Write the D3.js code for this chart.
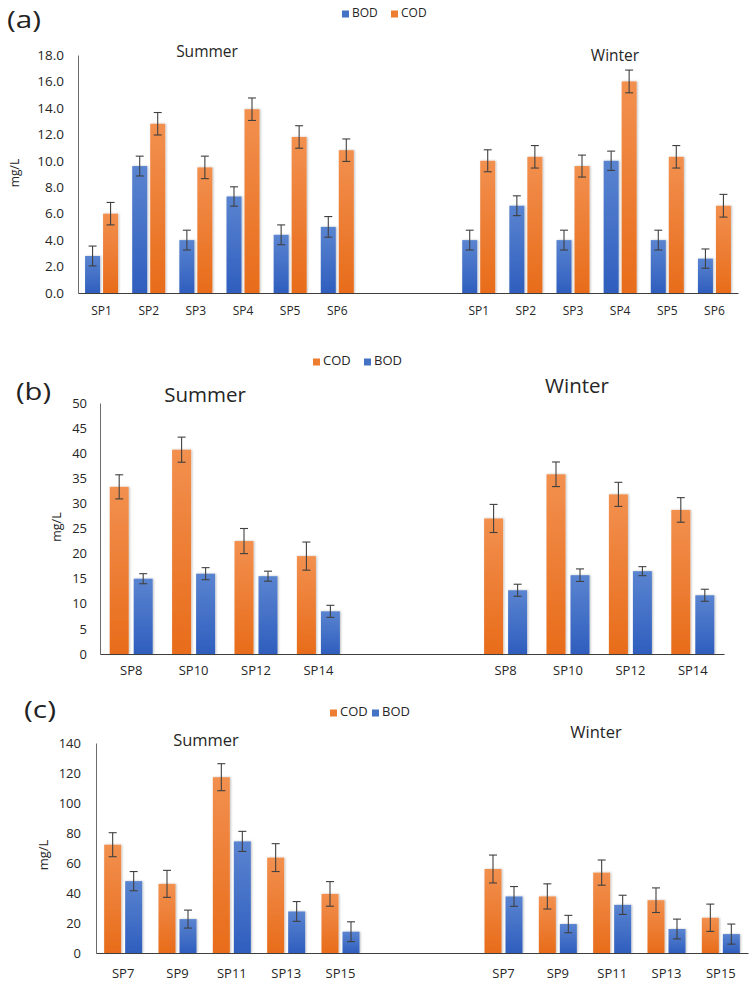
<!DOCTYPE html>
<html>
<head>
<meta charset="utf-8">
<script src="https://cdn.jsdelivr.net/npm/d3@7"></script>
<style>
  html, body { margin: 0; padding: 0; background: #fff; }
  svg { display: block; font-family: "Open Sans", Lato, sans-serif; }
</style>
</head>
<body>
<svg id="chart" width="751" height="983"></svg>
<script>
// ---------------- DATA ----------------
// Panel (a)
const sitesA = ["SP1", "SP2", "SP3", "SP4", "SP5", "SP6"];
const bodSummerA = [2.8, 9.6, 4.0, 7.3, 4.4, 5.0];
const codSummerA = [6.0, 12.8, 9.5, 13.9, 11.8, 10.8];
const bodWinterA = [4.0, 6.6, 4.0, 10.0, 4.0, 2.6];
const codWinterA = [10.0, 10.3, 9.6, 16.0, 10.3, 6.6];
const bodSummerErrA = [0.75, 0.75, 0.75, 0.73, 0.75, 0.78];
const codSummerErrA = [0.85, 0.85, 0.85, 0.85, 0.85, 0.85];
const bodWinterErrA = [0.75, 0.75, 0.75, 0.73, 0.75, 0.73];
const codWinterErrA = [0.83, 0.85, 0.83, 0.86, 0.85, 0.86];
const yTicksA = [0, 2, 4, 6, 8, 10, 12, 14, 16, 18];

// Panel (b)
const sitesB = ["SP8", "SP10", "SP12", "SP14"];
const codSummerB = [33.3, 40.7, 22.5, 19.5];
const bodSummerB = [15.0, 16.0, 15.5, 8.5];
const codWinterB = [27.0, 35.8, 31.8, 28.7];
const bodWinterB = [12.7, 15.7, 16.5, 11.7];
const codSummerErrB = [2.4, 2.5, 2.5, 2.8];
const bodSummerErrB = [1.0, 1.2, 1.0, 1.2];
const codWinterErrB = [2.8, 2.45, 2.4, 2.45];
const bodWinterErrB = [1.2, 1.25, 0.9, 1.2];
const yTicksB = [0, 5, 10, 15, 20, 25, 30, 35, 40, 45, 50];

// Panel (c)
const sitesC = ["SP7", "SP9", "SP11", "SP13", "SP15"];
const codSummerC = [72.2, 46.1, 117.2, 63.6, 39.4];
const bodSummerC = [47.9, 22.6, 74.4, 27.7, 14.2];
const codWinterC = [56.0, 37.7, 53.6, 35.2, 23.5];
const bodWinterC = [37.7, 19.3, 32.1, 16.0, 12.6];
const codSummerErrC = [8.0, 9.0, 9.0, 9.3, 8.2];
const bodSummerErrC = [6.4, 6.0, 6.7, 6.6, 6.6];
const codWinterErrC = [9.3, 8.4, 8.4, 8.2, 9.1];
const bodWinterErrC = [6.6, 5.8, 6.4, 6.6, 6.7];
const yTicksC = [0, 20, 40, 60, 80, 100, 120, 140];

const seasons = ["Summer", "Winter"];

// ---------------- DRAWING ----------------
const svg = d3.select("#chart");
const defs = svg.append("defs");

function grad(id, top, bottom) {
  const g = defs.append("linearGradient").attr("id", id)
    .attr("x1", 0).attr("y1", 0).attr("x2", 0).attr("y2", 1);
  g.append("stop").attr("offset", "0%").attr("stop-color", top);
  g.append("stop").attr("offset", "100%").attr("stop-color", bottom);
}
grad("gOrange", "#F2904F", "#E86C1A");
grad("gBlue", "#5A84D0", "#2F5EBE");
const colorOf = { COD: "url(#gOrange)", BOD: "url(#gBlue)" };
const swatchOf = { COD: "#ED7D31", BOD: "#4472C4" };

const shadow = defs.append("filter").attr("id", "shadow")
  .attr("x", "-30%").attr("y", "-10%").attr("width", "160%").attr("height", "120%");
shadow.append("feDropShadow").attr("dx", 1).attr("dy", 0).attr("stdDeviation", 1.3)
  .attr("flood-color", "#000").attr("flood-opacity", 0.25);

function drawPanel(cfg) {
  const g = svg.append("g");
  const slots = [
    ...cfg.sites.map(s => "Summer|" + s),
    "gap|1", "gap|2",
    ...cfg.sites.map(s => "Winter|" + s)
  ];
  const x = d3.scaleBand().domain(slots).range(cfg.xRange).padding(0);
  const y = d3.scaleLinear().domain([cfg.ticks[0], cfg.ticks[cfg.ticks.length - 1]]).range(cfg.yRange);

  const rows = [];
  seasons.forEach(season => {
    cfg.sites.forEach((site, i) => {
      cfg.order.forEach((series, k) => {
        const d = cfg.data[season][series];
        rows.push({ season, site, series, k, value: d.v[i], err: d.e[i] });
      });
    });
  });

  const n = cfg.order.length;
  const bw = cfg.barWidth, gap = cfg.barGap;
  const groupW = n * bw + (n - 1) * gap;
  const bx = d => x(d.season + "|" + d.site) + x.bandwidth() / 2 - groupW / 2 + d.k * (bw + gap);

  g.append("g").selectAll("rect").data(rows).join("rect")
    .attr("x", bx)
    .attr("y", d => y(d.value))
    .attr("width", bw)
    .attr("height", d => y(0) - y(d.value))
    .attr("fill", d => colorOf[d.series])
    .attr("filter", "url(#shadow)");

  const eb = g.append("g").attr("stroke", "#404040").attr("stroke-width", 1.1);
  const cap = cfg.capWidth;
  rows.forEach(d => {
    const cx = bx(d) + bw / 2;
    const y1 = y(d.value + d.err), y2 = y(d.value - d.err);
    eb.append("line").attr("x1", cx).attr("x2", cx).attr("y1", y1).attr("y2", y2);
    eb.append("line").attr("x1", cx - cap / 2).attr("x2", cx + cap / 2).attr("y1", y1).attr("y2", y1);
    eb.append("line").attr("x1", cx - cap / 2).attr("x2", cx + cap / 2).attr("y1", y2).attr("y2", y2);
  });

  const yAxis = g.append("g").attr("transform", `translate(${cfg.xRange[0]},0)`)
    .call(d3.axisLeft(y).tickValues(cfg.ticks).tickFormat(cfg.tickFmt)
      .tickSize(0).tickSizeOuter(0).tickPadding(cfg.yPad));
  yAxis.select(".domain").attr("stroke", "#6b6b6b").attr("stroke-width", 1);
  yAxis.selectAll("text").attr("font-size", cfg.yFont).attr("fill", "#262626")
    .attr("font-family", "'Open Sans', sans-serif");

  const xAxis = g.append("g").attr("transform", `translate(0,${y(0)})`)
    .call(d3.axisBottom(x).tickSize(0).tickSizeOuter(0).tickPadding(cfg.xPad)
      .tickFormat(d => d.startsWith("gap") ? "" : d.split("|")[1]));
  xAxis.select(".domain").attr("stroke", "#3f3f3f").attr("stroke-width", 1.2);
  xAxis.selectAll("text").attr("font-size", cfg.xFont).attr("fill", "#262626")
    .attr("font-family", "'Open Sans', sans-serif");

  g.append("text")
    .attr("transform", `translate(${cfg.yLabelPos[0]},${cfg.yLabelPos[1]}) rotate(-90)`)
    .attr("text-anchor", "middle").attr("dominant-baseline", "middle")
    .attr("font-size", cfg.yLabelFont).attr("fill", "#262626")
    .text("mg/L");

  g.append("text").attr("x", cfg.letterPos[0]).attr("y", cfg.letterPos[1])
    .attr("font-size", 24).attr("fill", "#222")
    .attr("textLength", cfg.letterW).attr("lengthAdjust", "spacingAndGlyphs")
    .text(cfg.letter);

  seasons.forEach((s, i) => {
    g.append("text").attr("x", cfg.titlePos[i][0]).attr("y", cfg.titlePos[i][1])
      .attr("text-anchor", "middle").attr("font-size", cfg.titleFont).attr("fill", "#262626")
      .text(s);
  });

  const lg = g.append("g");
  cfg.legendItems.forEach((name, i) => {
    const [lx, ly] = cfg.legendPos[i];
    lg.append("rect").attr("x", lx).attr("y", ly - cfg.sw / 2).attr("width", cfg.sw).attr("height", cfg.sw)
      .attr("fill", swatchOf[name]);
    lg.append("text").attr("x", lx + cfg.sw + 3).attr("y", ly).attr("dominant-baseline", "middle")
      .attr("font-size", cfg.legendFont).attr("fill", "#262626").text(name);
  });
}

drawPanel({
  letter: "(a)", letterPos: [7, 28], letterW: 34,
  sites: sitesA, order: ["BOD", "COD"],
  data: {
    Summer: { BOD: { v: bodSummerA, e: bodSummerErrA }, COD: { v: codSummerA, e: codSummerErrA } },
    Winter: { BOD: { v: bodWinterA, e: bodWinterErrA }, COD: { v: codWinterA, e: codWinterErrA } }
  },
  ticks: yTicksA, tickFmt: d3.format(".1f"),
  xRange: [78, 738], yRange: [293, 55],
  barWidth: 15, barGap: 3, capWidth: 8,
  yPad: 14, xPad: 13, yFont: 13.5, xFont: 12,
  yLabelPos: [16, 173], yLabelFont: 12,
  titlePos: [[207, 57], [615, 61]], titleFont: 15.5,
  legendItems: ["BOD", "COD"], legendPos: [[342, 14], [391, 14]], sw: 7, legendFont: 12
});

drawPanel({
  letter: "(b)", letterPos: [16, 400], letterW: 35,
  sites: sitesB, order: ["COD", "BOD"],
  data: {
    Summer: { COD: { v: codSummerB, e: codSummerErrB }, BOD: { v: bodSummerB, e: bodSummerErrB } },
    Winter: { COD: { v: codWinterB, e: codWinterErrB }, BOD: { v: bodWinterB, e: bodWinterErrB } }
  },
  ticks: yTicksB, tickFmt: d3.format("d"),
  xRange: [100, 724], yRange: [654, 403],
  barWidth: 19, barGap: 5, capWidth: 8,
  yPad: 13, xPad: 12, yFont: 13, xFont: 13,
  yLabelPos: [58, 527], yLabelFont: 12.5,
  titlePos: [[205, 402], [577, 393]], titleFont: 20.5,
  legendItems: ["COD", "BOD"], legendPos: [[313, 362], [364, 362]], sw: 7, legendFont: 13
});

drawPanel({
  letter: "(c)", letterPos: [24, 718], letterW: 32,
  sites: sitesC, order: ["COD", "BOD"],
  data: {
    Summer: { COD: { v: codSummerC, e: codSummerErrC }, BOD: { v: bodSummerC, e: bodSummerErrC } },
    Winter: { COD: { v: codWinterC, e: codWinterErrC }, BOD: { v: bodWinterC, e: bodWinterErrC } }
  },
  ticks: yTicksC, tickFmt: d3.format("d"),
  xRange: [96, 748], yRange: [953, 743],
  barWidth: 17, barGap: 4, capWidth: 8,
  yPad: 15, xPad: 16, yFont: 13, xFont: 13,
  yLabelPos: [45, 855], yLabelFont: 13,
  titlePos: [[206, 746], [596, 738]], titleFont: 16.5,
  legendItems: ["COD", "BOD"], legendPos: [[330, 713], [372, 713]], sw: 7, legendFont: 13
});
</script>
</body>
</html>
